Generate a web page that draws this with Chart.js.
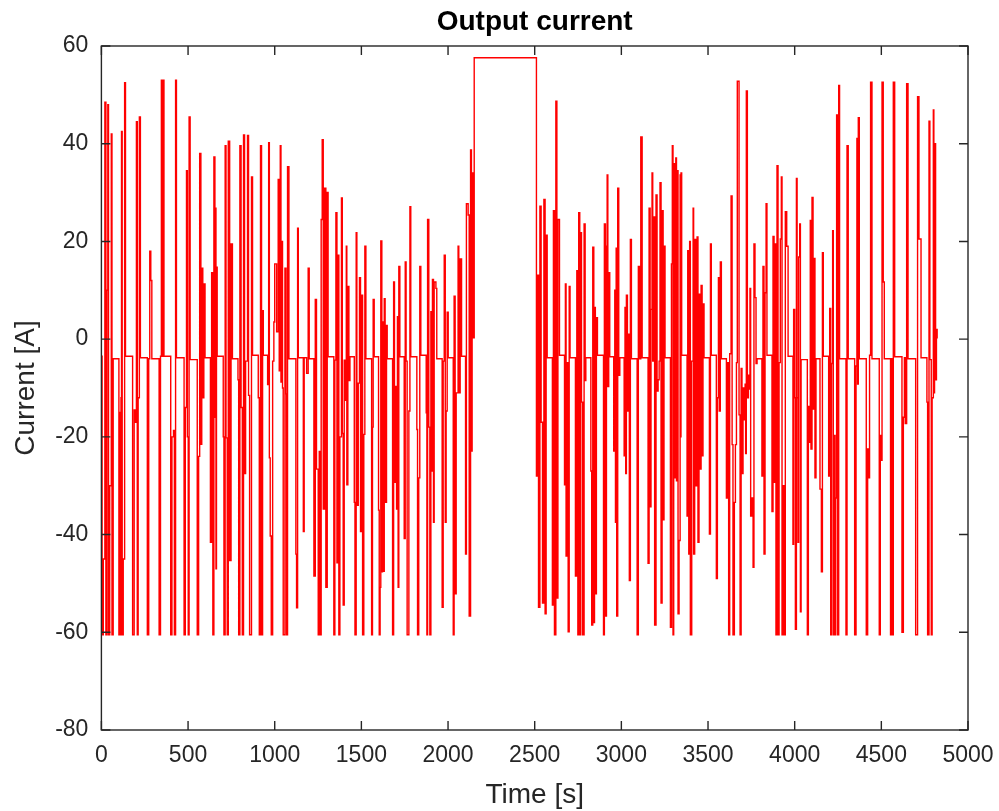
<!DOCTYPE html>
<html>
<head>
<meta charset="utf-8">
<script src="https://cdn.jsdelivr.net/npm/chart.js@4.4.1/dist/chart.umd.min.js"></script>
<style>
  html, body { margin: 0; padding: 0; background: #fff; }
  #wrap { width: 999px; height: 811px; }
</style>
</head>
<body>
<div id="wrap"><canvas id="cur"></canvas></div>
<script>
// Stromverlauf: [Zeit s, Strom A], Wert gilt bis zum nächsten Punkt
var cycleA = [
  [0,-3.5],[4,-60.5],[11,-45],[20,48.5],[26,-60.5],[32,10],[37,48],[41,-60.5],[48,-30],[57,42],[61,-60.5],[68,-4],
  [101,-60.5],[105,-15],[108,-60.5],[113,-12],[116,42.5],[120,-60.5],[126,-45],[134,52.5],[139,-3.5],
  [180,-60.5],[189,-14.5],[197,-17],[202,44.5],[207,-60.5],[212,-12],[219,45.5],[225,-3.8],
  [265,-60.5],[273,-4],[279,18],[285,12],[291,-4],
  [333,-60.5],[341,-3.5],[346,53],[352,-3.5],[355,53],[361,-3.5],
  [400,-60.5],[407,-20],[416,-18.7],[421,-60.5],[428,53],[433,-3.8],
  [477,-60.5],[484,-14],[491,34.5],[496,-20],[501,-60.5],[506,45.5],[512,-4.2],
  [553,-60.5],[561,-24],[567,38],[574,-21.5],[579,14.5],[585,-12],[591,11.3],[598,-3.8],
  [629,-41.6],[636,13.6],[643,-60.5],[649,37.3],[655,-16],[658,26.8],[661,-47],[664,14.7],[668,-3.5],
  [703,-20],[707,-60.5],[714,39.6],[719,-20.2],[726,-60.5],[732,40.5],[740,-45.3],[748,19.5],[756,-4],
  [788,-8.3],[792,-60.5],[799,39.6],[806,-14],[813,-60.5],[820,41.8],[826,-27.5],[832,-4.5],[843,41.7],[849,-11.5],
  [855,-60.5],[866,33.2],[872,-3.3],
  [905,-12],[911,-60.5],[918,39.6],[924,-60.5],[930,5.8],[934,-3.3],
  [959,-9.3],[965,40.2],[969,-24.3],[974,-40.3],[980,-60.5],[988,-4.5],[995,3.5],[1000,15.4],[1011,1.5],
  [1020,32.7],[1026,-6.5],[1032,39.6],[1036,-8.8],[1040,20],[1045,-10],[1049,-60.5],[1059,14.5],[1065,-11.2],
  [1068,-60.5],[1074,35.3],[1082,-4],
  [1122,-44],[1126,-55],[1132,22.7],[1136,-3.8],[1165,-39.4],[1170,-3.8],[1184,-7],[1193,14.5],[1199,-4],
  [1226,-48.5],[1234,8.1],[1241,-26.6],[1251,-60.5],[1257,-23],[1261,-60.5],[1268,24.5],[1274,40.8],[1280,-34.8],
  [1288,30.9],[1295,-50.8],[1303,30],[1308,-3.6],
  [1341,-60.5],[1347,-4.3],[1353,25.9],[1359,-45.8],[1364,17.2],[1370,-60.5],[1376,-20],[1385,28.9],[1390,-19.3],
  [1395,-54.4],[1401,-4.3],[1407,-12.5],[1413,19],[1416,-29.8],[1422,10.8],[1428,-8.5],[1434,-3.6],
  [1459,-33.4],[1463,-60.5],[1470,21.8],[1474,-34],[1482,-9],[1489,12.6],[1495,-39.4],[1501,9],[1507,-60.5],
  [1514,-19.5],[1520,19],[1526,-4],
  [1559,-60.5],[1564,-18],[1568,8.1],[1574,-3.6],
  [1599,-35],[1603,-60.5],[1608,-50.8],[1612,20.1],[1618,-47.6],[1622,3.5],[1628,-47.5],[1632,8.3],[1637,-33.4],
  [1645,2.8],[1649,-4],
  [1680,-60.5],[1686,11.7],[1691,-29.3],[1697,-9.7],[1703,-34.8],[1708,4.6],[1712,-50.8],[1716,14.9],[1722,-3.6],
  [1747,-40.8],[1753,15.8],[1758,-4.5],[1764,-60.5],[1774,-14.7],[1780,27.1],[1785,-3.6],
  [1820,-18.5],[1824,-60.5],[1831,-28.4],[1837,14.9],[1843,-3.3],
  [1874,-15.1],[1878,-60.5],[1882,24.5],[1889,-18],[1895,-60.5],[1901,5.6],[1905,-27],[1910,12.2],[1916,-37.5],
  [1920,11.7],[1930,10.4],[1935,-4],
  [1966,-54.9],[1972,-4.5],[1978,17.2],[1984,-37.5],[1989,-14.7],[1995,5.5],[2001,-3.8],
  [2030,-60.5],[2035,8.8],[2041,-52.1],[2047,-11],[2058,19],[2062,-11],[2070,16.4],[2078,-3.5],
  [2101,-44],[2106,27.7],[2116,25.4],[2122,-56.7],[2130,38.7],[2135,-22.9],[2139,34],[2145,0.3]
];

// Konstante Phase in der Mitte
var holdPhase = [[2151,57.6]];

var cycleB = [
  [2510,-28],[2514,13.1],[2522,-54.9],[2530,27.2],[2537,-17],[2545,-54],[2553,28.6],[2560,-56.2],[2566,21.3],[2572,-3.8],
  [2602,-54.4],[2608,26.3],[2614,-60.5],[2622,48.7],[2628,-53],[2634,24.5],[2643,-3.3],
  [2672,-29.8],[2677,11.3],[2681,-44.4],[2687,-4.8],[2693,-59.9],[2699,10.8],[2704,-3.8],
  [2735,-48.5],[2743,14],[2749,-60.5],[2754,25.9],[2760,-60.5],[2766,21.8],[2770,-12.9],[2777,-60.5],[2785,23.6],
  [2791,-8.5],[2795,-3.8],
  [2824,-27],[2829,-58.5],[2835,18.8],[2841,-58],[2845,6.5],[2850,-52.1],[2856,4.4],[2862,-3.3],
  [2897,-60.5],[2902,23.6],[2908,-56.7],[2914,19],[2918,33.6],[2922,-9.7],[2927,13.6],[2933,-3.6],
  [2956,-22.9],[2962,10],[2966,-37.5],[2970,18.6],[2973,-56.7],[2979,30.9],[2985,-7.4],[2991,-3.8],
  [3016,-23.9],[3021,6.5],[3025,-27.5],[3029,9],[3035,-14.7],[3041,1],[3046,-49.4],[3052,20.4],[3058,-4],
  [3091,-60.5],[3098,14.9],[3104,-4],[3112,41.4],[3120,-3.8],
  [3154,-45.9],[3160,26.8],[3166,-34.3],[3171,6.1],[3177,34],[3181,-4.5],[3187,25],[3192,-58.5],[3200,29.5],
  [3206,-10.6],[3212,-8.3],[3218,-4.5],[3223,32],[3229,-54],[3235,26.3],[3241,-37],[3246,19],[3252,-3.8],
  [3283,-59],[3289,15.4],[3294,39.6],[3298,-60.5],[3302,35.9],[3308,-28.4],[3314,37.1],[3318,-29],[3323,34.5],
  [3327,-56.2],[3333,-41.2],[3339,33.6],[3342,-20],[3344,34],[3348,-3.3],
  [3379,-36.2],[3383,18.1],[3389,-44],[3394,20],[3398,-60.5],[3406,-4.5],[3414,26.8],[3417,-44],[3423,20.4],
  [3429,-30],[3437,20.9],[3442,-41.6],[3448,9.2],[3454,-26.6],[3460,11],[3466,-23.9],[3471,7.2],[3477,-3.8],
  [3508,-39.9],[3514,19.5],[3519,-3.3],
  [3548,-49],[3554,-12],[3560,12.6],[3565,-14.7],[3571,15.8],[3577,-4],
  [3606,-32.5],[3612,-4.8],[3619,-60.5],[3625,-3],[3633,29.3],[3639,-21.6],[3644,-60.5],[3652,-33.4],[3658,-21.6],
  [3664,-4.8],[3669,52.8],[3679,-15.5],[3685,-60.5],[3691,-6],[3696,-27.5],[3702,-10],[3708,-16.5],[3714,-9.2],
  [3717,-23.4],[3721,50.8],[3727,-12],[3733,-7.4],[3737,-10.2],[3742,10.4],[3746,-36.2],[3752,-32.5],[3760,-46.7],
  [3765,19.5],[3771,8.5],[3777,-5],[3783,-4],
  [3811,-28],[3817,14.9],[3823,-44],[3829,9.5],[3835,27.7],[3840,-3.3],
  [3869,-35.3],[3875,21],[3881,-29.3],[3886,19.5],[3892,-60.5],[3898,35.5],[3904,-60.5],[3910,-4.8],[3917,20.5],
  [3923,33.2],[3927,-60.5],[3933,-30],[3940,-60.5],[3946,26.1],[3954,19],[3962,-3.5],
  [3990,-42],[3994,6.1],[4000,-12],[4004,-59.4],[4010,32.9],[4014,-12],[4019,-41.6],[4023,16.8],[4029,23.6],
  [4033,-55.8],[4037,-4.2],
  [4073,-60.5],[4079,-13.8],[4085,-21.1],[4090,24.3],[4094,-22.5],[4100,29],[4106,-14.3],[4112,16.5],[4117,-28.4],[4123,-4],
  [4146,-30.7],[4154,-47.6],[4160,17.7],[4165,-3.5],
  [4196,-28],[4202,6.3],[4208,-60.5],[4213,-5],[4219,22.2],[4223,-60.5],[4229,-19.7],[4233,-60.5],[4237,-32.5],
  [4242,45.9],[4248,-60.5],[4254,51.9],[4259,-4],
  [4296,-60.5],[4302,39.6],[4309,-4],
  [4346,-60.5],[4354,-5.5],[4359,41.1],[4363,-9.2],[4367,45.3],[4373,-4],
  [4413,-60.5],[4421,-22.5],[4427,-28.4],[4432,-3.3],[4438,52.6],[4446,-4],
  [4488,-60.5],[4494,-19.7],[4500,-24.8],[4504,52.6],[4511,11.7],[4517,-4],
  [4553,-60.5],[4558,-4],[4561,-60.5],[4569,52.6],[4577,-3.6],
  [4619,-60],[4627,-16],[4633,-3.8],[4638,-17.3],[4646,52.3],[4654,-4],
  [4698,-60.5],[4709,49.6],[4717,20.5],[4729,-3.8],
  [4763,-12.9],[4767,-60.5],[4775,44.6],[4780,-4.2],[4788,-60.5],[4793,-12],[4800,46.9],[4803,-11],[4807,40],
  [4813,-8.3],[4818,2],[4822,0.2],[4824,0.2]
];

var xTicks = [0, 500, 1000, 1500, 2000, 2500, 3000, 3500, 4000, 4500, 5000];
var yTicks = [-80, -60, -40, -20, 0, 20, 40, 60];

var titleText = 'Output current';
var xLabel = 'Time [s]';
var yLabel = 'Current [A]';

var AX = '#262626';
var FONT = "'Liberation Sans', Arial, Helvetica, sans-serif";

var points = cycleA.concat(holdPhase, cycleB).map(function (p) { return { x: p[0], y: p[1] }; });

// Rahmen wie in MATLAB: Box + Ticks nach innen, Titel über der Plotfläche
var framePlugin = {
  id: 'frame',
  afterDraw: function (chart) {
    var ctx = chart.ctx, a = chart.chartArea;
    var xs = chart.scales.x, ys = chart.scales.y;
    ctx.save();
    ctx.strokeStyle = AX;
    ctx.lineWidth = 1.4;
    ctx.strokeRect(a.left, a.top, a.right - a.left, a.bottom - a.top);
    ctx.beginPath();
    xTicks.forEach(function (v) {
      var px = xs.getPixelForValue(v);
      ctx.moveTo(px, a.bottom); ctx.lineTo(px, a.bottom - 9);
      ctx.moveTo(px, a.top); ctx.lineTo(px, a.top + 9);
    });
    yTicks.forEach(function (v) {
      var py = ys.getPixelForValue(v);
      ctx.moveTo(a.left, py); ctx.lineTo(a.left + 9, py);
      ctx.moveTo(a.right, py); ctx.lineTo(a.right - 9, py);
    });
    ctx.stroke();
    ctx.fillStyle = '#000';
    ctx.font = 'bold 28px ' + FONT;
    ctx.textAlign = 'center';
    ctx.textBaseline = 'alphabetic';
    ctx.fillText(titleText, (a.left + a.right) / 2, 30);
    ctx.restore();
  }
};

function plain(v) { return String(v); }

new Chart(document.getElementById('cur').getContext('2d'), {
  type: 'line',
  data: {
    datasets: [{
      label: 'Current',
      data: points,
      borderColor: '#ff0000',
      borderWidth: 1.4,
      pointRadius: 0,
      stepped: true,
      fill: false,
      tension: 0
    }]
  },
  options: {
    responsive: true,
    maintainAspectRatio: false,
    animation: false,
    layout: { padding: { top: 46, right: 31, left: 0, bottom: 0 } },
    plugins: {
      legend: { display: false },
      tooltip: { enabled: false },
      title: { display: false }
    },
    scales: {
      x: {
        type: 'linear',
        min: 0, max: 5000,
        afterFit: function (s) { s.height = 81; s.paddingRight = 0; },
        afterBuildTicks: function (s) { s.ticks = xTicks.map(function (v) { return { value: v }; }); },
        grid: { display: false, drawTicks: false },
        border: { display: false },
        ticks: { color: AX, font: { family: FONT, size: 23 }, padding: 12, maxRotation: 0, callback: plain },
        title: { display: true, text: xLabel, color: AX, font: { family: FONT, size: 28, lineHeight: 1.1 }, padding: { top: 0, bottom: 0 } }
      },
      y: {
        type: 'linear',
        min: -80, max: 60,
        afterFit: function (s) { s.width = 101.4; },
        afterBuildTicks: function (s) { s.ticks = yTicks.map(function (v) { return { value: v }; }); },
        grid: { display: false, drawTicks: false },
        border: { display: false },
        ticks: { color: AX, font: { family: FONT, size: 23 }, padding: 13, callback: plain },
        title: { display: true, text: yLabel, color: AX, font: { family: FONT, size: 28, lineHeight: 1.1 }, padding: { top: 11, bottom: 0 } }
      }
    }
  },
  plugins: [framePlugin]
});
</script>
</body>
</html>
